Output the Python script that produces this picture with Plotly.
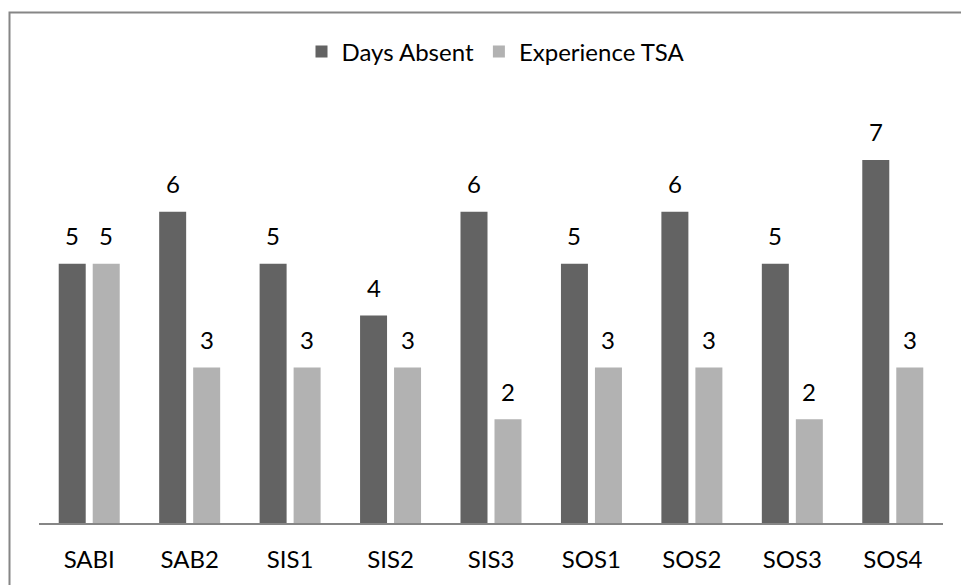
import plotly.graph_objects as go

# Chart data
categories = ["SABI", "SAB2", "SIS1", "SIS2", "SIS3", "SOS1", "SOS2", "SOS3", "SOS4"]
days_absent = [5, 6, 5, 4, 6, 5, 6, 5, 7]
experience_tsa = [5, 3, 3, 3, 2, 3, 3, 2, 3]

DARK = "#636363"
LIGHT = "#b2b2b2"
AXIS_GREY = "#868686"
FONT = "Lato"

W, H = 961, 585
ML, MR, MT, MB = 39, 18, 108, 62

fig = go.Figure()
fig.add_trace(go.Bar(name="Days Absent", x=categories, y=days_absent,
                     marker=dict(color=DARK, line=dict(width=0))))
fig.add_trace(go.Bar(name="Experience TSA", x=categories, y=experience_tsa,
                     marker=dict(color=LIGHT, line=dict(width=0))))

# value labels above each bar
annotations = []
for series, shift in ((days_absent, -17), (experience_tsa, 17)):
    for cat, val in zip(categories, series):
        annotations.append(dict(
            x=cat, y=val, xref="x", yref="y", text=str(val),
            showarrow=False, xshift=shift, yshift=28,
            xanchor="center", yanchor="middle",
            font=dict(family=FONT, size=24, color="#000000")))

plot_w = W - ML - MR
plot_h = H - MT - MB

# outer chart frame (top and left edges visible)
frame = dict(type="rect", xref="paper", yref="paper",
             x0=(9.5 - ML) / plot_w, x1=1.2,
             y0=-0.4, y1=(H - MB - 12.5) / plot_h,
             line=dict(color=AXIS_GREY, width=2), fillcolor="rgba(0,0,0,0)",
             layer="below")

fig.update_layout(
    width=W, height=H,
    margin=dict(l=ML, r=MR, t=MT, b=MB),
    paper_bgcolor="white", plot_bgcolor="white",
    barmode="group", bargap=0.323, bargroupgap=0.206,
    font=dict(family=FONT, size=24, color="#000000"),
    showlegend=True,
    legend=dict(orientation="h", x=(496 - ML) / plot_w, xanchor="center",
                y=(H - MB - 52) / plot_h, yanchor="middle",
                font=dict(family=FONT, size=24, color="#000000"),
                bgcolor="rgba(0,0,0,0)", itemclick=False),
    annotations=annotations,
    shapes=[frame],
)
fig.update_xaxes(showline=True, linecolor=AXIS_GREY, linewidth=2,
                 ticks="", showgrid=False, ticklabelstandoff=14,
                 tickfont=dict(family=FONT, size=24, color="#000000"))
fig.update_yaxes(range=[0, 8], visible=False, showgrid=False, zeroline=False)

fig.write_html("out.html")
